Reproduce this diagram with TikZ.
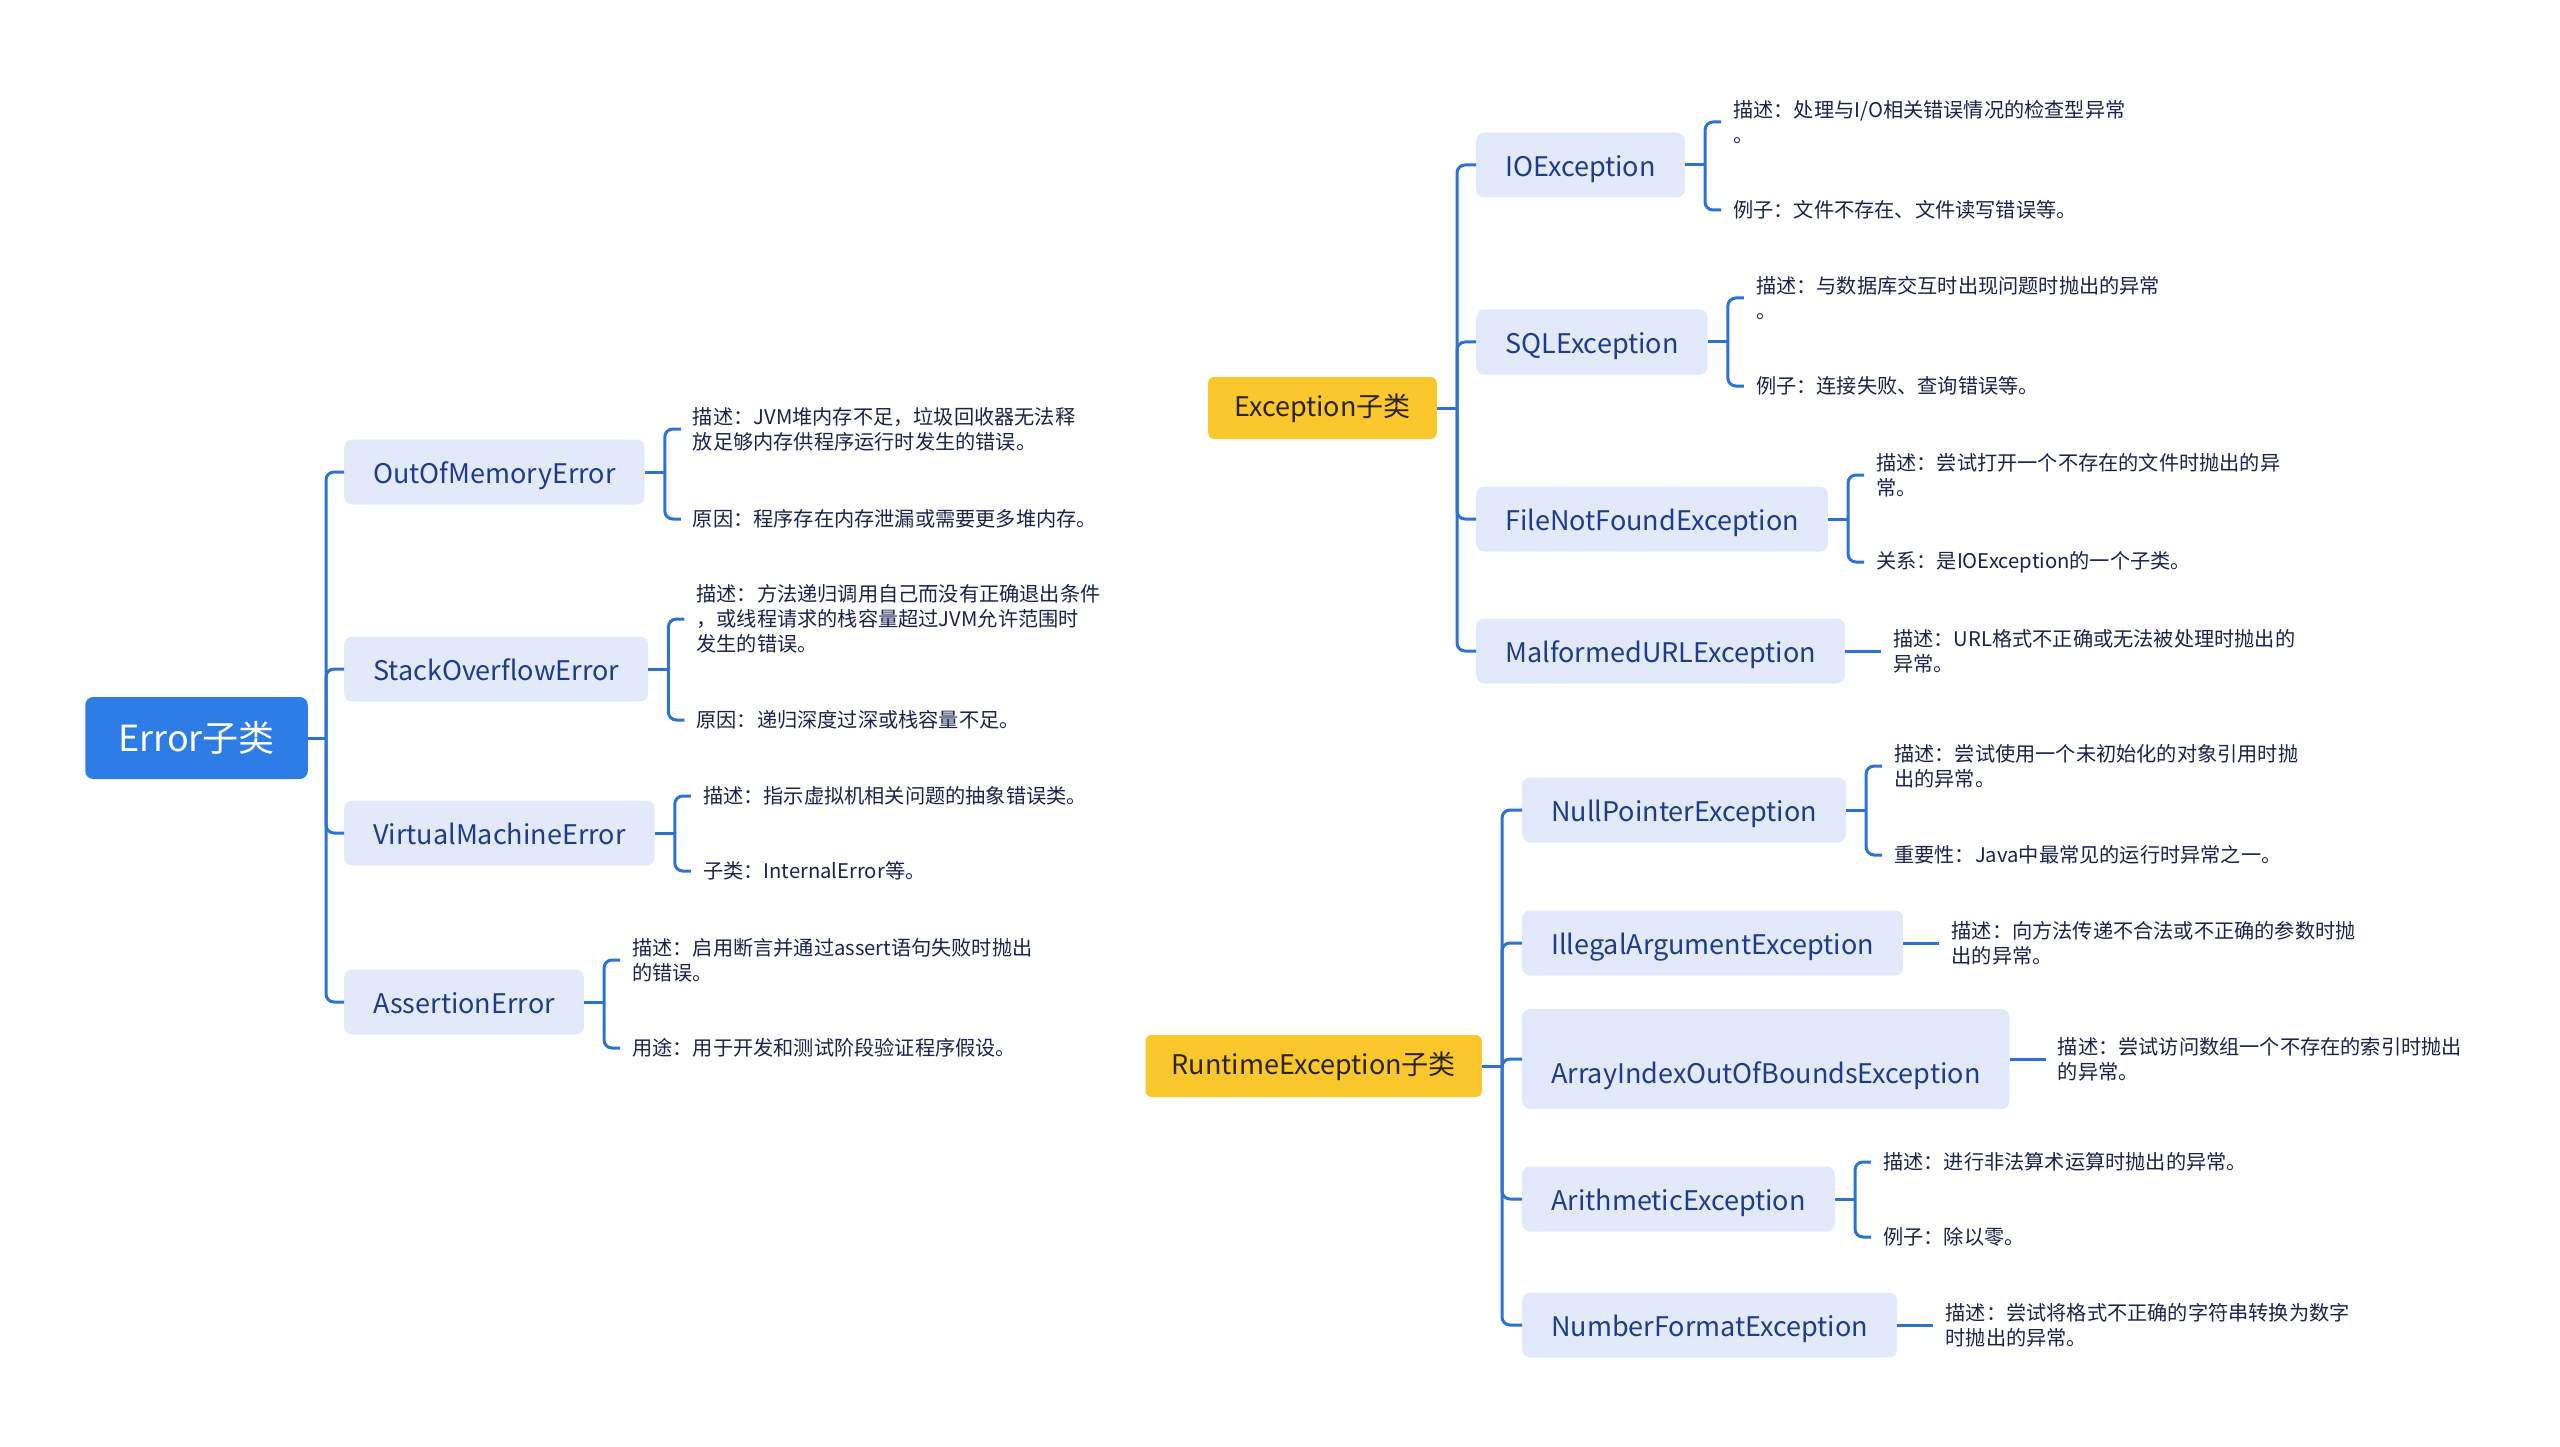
\documentclass[tikz,border=0pt]{standalone}
\usepackage{fontspec}
\setmainfont{Noto Sans CJK SC}
\usepackage{xcolor}
\definecolor{accent}{RGB}{46,125,230}
\definecolor{accent2}{RGB}{250,200,45}
\definecolor{subfill}{RGB}{226,233,251}
\definecolor{subtext}{RGB}{30,60,140}
\definecolor{topictext}{RGB}{45,35,10}
\definecolor{leaftext}{RGB}{25,35,75}
\definecolor{branchcol}{RGB}{45,115,210}
\usepackage{tikz}
\usetikzlibrary{positioning,calc}
\tikzset{
  root/.style={rounded corners=8pt,fill=accent,text=white,%
    font=\fontsize{36}{44}\selectfont,inner xsep=33pt,minimum height=82pt,anchor=east},
  topic/.style={rounded corners=6pt,fill=accent2,text=topictext,%
    font=\fontsize{27}{33}\selectfont,inner xsep=26pt,minimum height=62pt,anchor=east},
  sub/.style={rounded corners=8pt,fill=subfill,text=subtext,%
    font=\fontsize{27}{33}\selectfont,inner xsep=29pt,minimum height=65pt,%
    text height=28pt,text depth=5pt,anchor=west},
  leaf/.style={text=leaftext,font=\fontsize{20.2}{25}\selectfont,%
    inner xsep=12pt,inner ysep=0pt,align=left,anchor=west},
  branch/.style={draw=branchcol,line width=3pt,rounded corners=8pt},
}

\begin{document}
\begin{tikzpicture}[x=1pt,y=-1pt]
\useasboundingbox (0,0) rectangle (2560,1447);
% Error side
\node[root] (err) at (308,738) {Error子类};
\coordinate (errj) at ($(err.east)+(18,0)$);
\node[sub] (oom) at (344,472) {OutOfMemoryError};
\node[sub] (soe) at (344,669) {StackOverflowError};
\node[sub] (vme) at (344,833) {VirtualMachineError};
\node[sub] (ae) at (344,1002) {AssertionError};
\node[leaf] (oom1) at ($(oom.east)+(36,-43)$)
  {描述：JVM堆内存不足，垃圾回收器无法释\\放足够内存供程序运行时发生的错误。};
\node[leaf] (oom2) at ($(oom.east)+(36,47)$) {原因：程序存在内存泄漏或需要更多堆内存。};
\node[leaf] (soe1) at ($(soe.east)+(36,-50)$)
  {描述：方法递归调用自己而没有正确退出条件\\，或线程请求的栈容量超过JVM允许范围时\\发生的错误。};
\node[leaf] (soe2) at ($(soe.east)+(36,51)$) {原因：递归深度过深或栈容量不足。};
\node[leaf] (vme1) at ($(vme.east)+(36,-37)$) {描述：指示虚拟机相关问题的抽象错误类。};
\node[leaf] (vme2) at ($(vme.east)+(36,38)$) {子类：InternalError等。};
\node[leaf] (ae1) at ($(ae.east)+(36,-42)$)
  {描述：启用断言并通过assert语句失败时抛出\\的错误。};
\node[leaf] (ae2) at ($(ae.east)+(36,46)$) {用途：用于开发和测试阶段验证程序假设。};
\draw[branch] (err.east) -- (errj);
\draw[branch] (errj) |- (oom.west);
\draw[branch] (errj) |- (soe.west);
\draw[branch] (errj) |- (vme.west);
\draw[branch] (errj) |- (ae.west);
\draw[branch] (oom.east) -- ++(20,0) coordinate (oomj);
\draw[branch] (oomj) |- (oom1.west);
\draw[branch] (oomj) |- (oom2.west);
\draw[branch] (soe.east) -- ++(20,0) coordinate (soej);
\draw[branch] (soej) |- (soe1.west);
\draw[branch] (soej) |- (soe2.west);
\draw[branch] (vme.east) -- ++(20,0) coordinate (vmej);
\draw[branch] (vmej) |- (vme1.west);
\draw[branch] (vmej) |- (vme2.west);
\draw[branch] (ae.east) -- ++(20,0) coordinate (aej);
\draw[branch] (aej) |- (ae1.west);
\draw[branch] (aej) |- (ae2.west);

% Exception side
\node[topic] (exc) at (1437,408) {Exception子类};
\coordinate (excj) at ($(exc.east)+(20,0)$);
\node[sub] (io) at (1476,165) {IOException};
\node[sub] (sql) at (1476,342) {SQLException};
\node[sub] (fnf) at (1476,519) {FileNotFoundException};
\node[sub] (murl) at (1476,651) {MalformedURLException};
\node[leaf] (io1) at ($(io.east)+(36,-43)$) {描述：处理与I/O相关错误情况的检查型异常\\。};
\node[leaf] (io2) at ($(io.east)+(36,45)$) {例子：文件不存在、文件读写错误等。};
\node[leaf] (sql1) at ($(sql.east)+(36,-44)$) {描述：与数据库交互时出现问题时抛出的异常\\。};
\node[leaf] (sql2) at ($(sql.east)+(36,44)$) {例子：连接失败、查询错误等。};
\node[leaf] (fnf1) at ($(fnf.east)+(36,-44)$) {描述：尝试打开一个不存在的文件时抛出的异\\常。};
\node[leaf] (fnf2) at ($(fnf.east)+(36,43)$) {关系：是IOException的一个子类。};
\node[leaf] (murl1) at ($(murl.east)+(36,0)$) {描述：URL格式不正确或无法被处理时抛出的\\异常。};
\draw[branch] (exc.east) -- (excj);
\draw[branch] (excj) |- (io.west);
\draw[branch] (excj) |- (sql.west);
\draw[branch] (excj) |- (fnf.west);
\draw[branch] (excj) |- (murl.west);
\draw[branch] (io.east) -- ++(20,0) coordinate (ioj);
\draw[branch] (ioj) |- (io1.west);
\draw[branch] (ioj) |- (io2.west);
\draw[branch] (sql.east) -- ++(20,0) coordinate (sqlj);
\draw[branch] (sqlj) |- (sql1.west);
\draw[branch] (sqlj) |- (sql2.west);
\draw[branch] (fnf.east) -- ++(20,0) coordinate (fnfj);
\draw[branch] (fnfj) |- (fnf1.west);
\draw[branch] (fnfj) |- (fnf2.west);
\draw[branch] (murl.east) -- (murl1.west);

% RuntimeException side
\node[topic] (rte) at (1482,1066) {RuntimeException子类};
\coordinate (rtej) at ($(rte.east)+(20,0)$);
\node[sub] (npe) at (1522,810) {NullPointerException};
\node[sub] (iae) at (1522,943) {IllegalArgumentException};
\node[sub,inner ysep=0pt,text height=74pt,text depth=26pt] (aio) at (1522,1059)
  {ArrayIndexOutOfBoundsException};
\node[sub] (ari) at (1522,1199) {ArithmeticException};
\node[sub] (nfe) at (1522,1325) {NumberFormatException};
\node[leaf] (npe1) at ($(npe.east)+(36,-44)$) {描述：尝试使用一个未初始化的对象引用时抛\\出的异常。};
\node[leaf] (npe2) at ($(npe.east)+(36,45)$) {重要性：Java中最常见的运行时异常之一。};
\node[leaf] (iae1) at ($(iae.east)+(36,0)$) {描述：向方法传递不合法或不正确的参数时抛\\出的异常。};
\node[leaf] (aio1) at ($(aio.east)+(36,0)$) {描述：尝试访问数组一个不存在的索引时抛出\\的异常。};
\node[leaf] (ari1) at ($(ari.east)+(36,-37)$) {描述：进行非法算术运算时抛出的异常。};
\node[leaf] (ari2) at ($(ari.east)+(36,38)$) {例子：除以零。};
\node[leaf] (nfe1) at ($(nfe.east)+(36,0)$) {描述：尝试将格式不正确的字符串转换为数字\\时抛出的异常。};
\draw[branch] (rte.east) -- (rtej);
\draw[branch] (rtej) |- (npe.west);
\draw[branch] (rtej) |- (iae.west);
\draw[branch] (rtej) |- (aio.west);
\draw[branch] (rtej) |- (ari.west);
\draw[branch] (rtej) |- (nfe.west);
\draw[branch] (npe.east) -- ++(20,0) coordinate (npej);
\draw[branch] (npej) |- (npe1.west);
\draw[branch] (npej) |- (npe2.west);
\draw[branch] (iae.east) -- (iae1.west);
\draw[branch] (aio.east) -- (aio1.west);
\draw[branch] (ari.east) -- ++(20,0) coordinate (arij);
\draw[branch] (arij) |- (ari1.west);
\draw[branch] (arij) |- (ari2.west);
\draw[branch] (nfe.east) -- (nfe1.west);
\end{tikzpicture}
\end{document}
